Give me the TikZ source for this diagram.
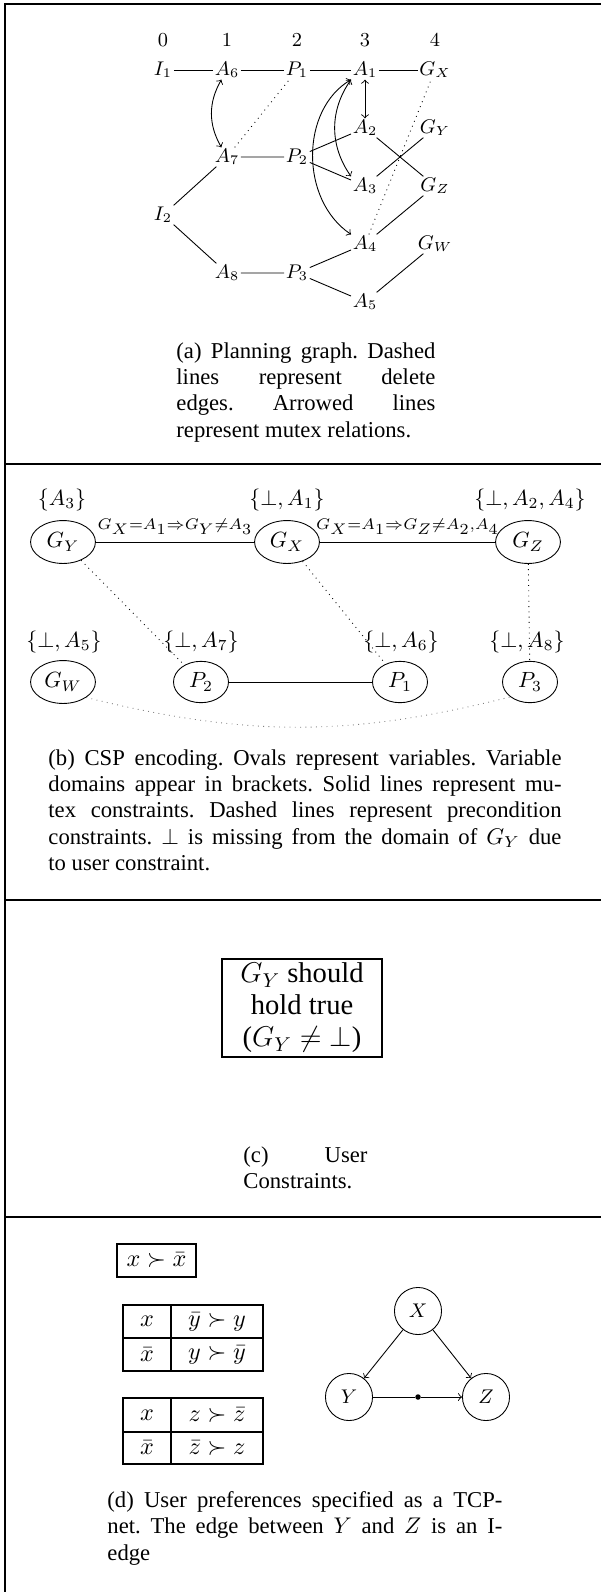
\RequirePackage{fix-cm}
\documentclass[tikz,border=0pt]{standalone}
\usepackage[no-math]{fontspec}
\setmainfont{Liberation Serif}
\usetikzlibrary{shapes.geometric}
\newcommand{\edgelab}[1]{\scalebox{1.03}[1]{$\scriptscriptstyle #1$}}
\begin{document}
\frenchspacing
\begin{tikzpicture}[x=0.4545pt,y=-0.4545pt,
  frame/.style={line width=0.9pt},
  pgn/.style={inner sep=0.6pt,font=\small},
  mutex/.style={<->},
  deledge/.style={dotted},
  oval/.style={draw,ellipse,inner sep=0pt,minimum width=29.5pt,minimum height=19.5pt},
  poval/.style={draw,ellipse,inner sep=0pt,minimum width=25pt,minimum height=18.8pt},
  dom/.style={inner sep=0pt},
  elab/.style={above=3pt,inner sep=0pt,font=\fontsize{14}{16}\selectfont},
  captext/.style={anchor=north west,inner sep=0pt,align=justify,font=\fontsize{10.3}{12}\selectfont},
  ubox/.style={draw,line width=0.9pt,align=center,inner xsep=0pt,inner ysep=2pt,minimum width=73pt,font=\fontsize{13}{14.5}\selectfont},
  tbl/.style={line width=0.9pt},
  cell/.style={inner sep=0pt,font=\fontsize{11}{13}\selectfont},
  tcp/.style={draw,circle,inner sep=0pt,minimum size=21.4pt,font=\small},
]
\useasboundingbox (0,0) rectangle (601,1592);
% frame
\draw[frame] (5,1592) -- (5,3.7) -- (601,3.7);
\foreach \yy in {464,900,1217} \draw[frame] (5,\yy) -- (601,\yy);

% ---------- (a) planning graph ----------
\node[pgn] (n0) at (163,40) {$0$};
\node[pgn] (n1) at (227,40) {$1$};
\node[pgn] (n2) at (297,40) {$2$};
\node[pgn] (n3) at (365,40) {$3$};
\node[pgn] (n4) at (435,40) {$4$};
\node[pgn] (I1) at (163,70) {$I_1$};
\node[pgn] (A6) at (227,70) {$A_6$};
\node[pgn] (P1) at (297,70) {$P_1$};
\node[pgn] (A1) at (365,70) {$A_1$};
\node[pgn] (GX) at (435,70) {$G_X$};
\node[pgn] (A2) at (365,128) {$A_2$};
\node[pgn] (GY) at (435,128) {$G_Y$};
\node[pgn] (A7) at (227,157) {$A_7$};
\node[pgn] (P2) at (297,157) {$P_2$};
\node[pgn] (A3) at (365,186) {$A_3$};
\node[pgn] (GZ) at (435,186) {$G_Z$};
\node[pgn] (I2) at (163,215) {$I_2$};
\node[pgn] (A4) at (365,244) {$A_4$};
\node[pgn] (GW) at (435,244) {$G_W$};
\node[pgn] (A8) at (227,273) {$A_8$};
\node[pgn] (P3) at (297,273) {$P_3$};
\node[pgn] (A5) at (365,302) {$A_5$};
\draw (I1)--(A6) (A6)--(P1) (P1)--(A1) (A1)--(GX);
\draw (A7)--(P2) (P2)--(A2) (P2)--(A3) (A2)--(GZ) (A3)--(GY);
\draw (I2)--(A7) (I2)--(A8) (A8)--(P3) (P3)--(A4) (P3)--(A5) (A4)--(GZ) (A5)--(GW);
\draw[deledge] (A7)--(P1) (A4)--(GX);
\draw[mutex] (A6) to[bend right=30] (A7);
\draw[mutex] (A1) -- (A2);
\draw[mutex] (A1.south west) to[bend right=35] (A3.north west);
\draw[mutex] (A1.south west) .. controls (300,110) and (300,200) .. (A4.north west);
\node[captext,text width=117.7pt] (capa) at (176,342) {(a) Planning graph. Dashed\linebreak lines represent delete\linebreak edges. Arrowed lines\linebreak represent mutex relations.};

% ---------- (b) CSP encoding ----------
\node[oval] (cGY) at (63,542) {$G_Y$};
\node[oval] (cGX) at (287,542) {$G_X$};
\node[oval] (cGZ) at (528,542) {$G_Z$};
\node[oval] (cGW) at (63,682) {$G_W$};
\node[poval] (cP2) at (201,682) {$P_2$};
\node[poval] (cP1) at (400,682) {$P_1$};
\node[poval] (cP3) at (530,682) {$P_3$};
\node[dom] (dGY) at (62,500) {$\{A_3\}$};
\node[dom] (dGX) at (287,500) {$\{\bot,A_1\}$};
\node[dom] (dGZ) at (530,500) {$\{\bot,A_2,A_4\}$};
\node[dom] (dGW) at (64,642) {$\{\bot,A_5\}$};
\node[dom] (dP2) at (201,642) {$\{\bot,A_7\}$};
\node[dom] (dP1) at (401,642) {$\{\bot,A_6\}$};
\node[dom] (dP3) at (527,642) {$\{\bot,A_8\}$};
\draw (cGY) -- node[elab] (l1) {\edgelab{G_X=A_1\Rightarrow G_Y\neq A_3}} (cGX);
\draw (cGX) -- node[elab] (l2) {\edgelab{G_X=A_1\Rightarrow G_Z\neq A_2,A_4}} (cGZ);
\draw (cP2) -- (cP1);
\draw[deledge] (cGY) -- (cP2);
\draw[deledge] (cGX) -- (cP1);
\draw[deledge] (cGZ) -- (cP3);
\draw[deledge,gray] (cGW.south east) to[bend right=14] (cP3.south west);
\node[captext,text width=233.2pt] (capb) at (48,749) {(b) CSP encoding. Ovals represent variables. Variable\linebreak domains appear in brackets. Solid lines represent mu-\linebreak tex constraints. Dashed lines represent precondition\linebreak constraints. $\bot$ is missing from the domain of $G_Y$ due\linebreak to user constraint.};

% ---------- (c) user constraints ----------
\node[ubox] (ucon) at (302,1008) {$G_Y$ should\\hold true\\($G_Y\neq\bot$)};
\node[captext,text width=56.4pt] (capc) at (243,1146) {(c) User\linebreak Constraints.};

% ---------- (d) TCP-net ----------
\node[draw,line width=0.9pt,inner sep=0pt,minimum width=36pt,minimum height=15pt,font=\fontsize{11}{13}\selectfont] (pref) at (156.5,1260.5) {$x\succ\bar{x}$};
\draw[tbl] (123,1305) rectangle (263,1371);
\draw[tbl] (171,1305) -- (171,1371) (123,1338) -- (263,1338);
\node[cell] (ta1) at (147,1321.5) {$x$};
\node[cell] (ta2) at (217,1321.5) {$\bar{y}\succ y$};
\node[cell] (ta3) at (147,1354.5) {$\bar{x}$};
\node[cell] (ta4) at (217,1354.5) {$y\succ\bar{y}$};
\draw[tbl] (123,1398) rectangle (263,1464);
\draw[tbl] (171,1398) -- (171,1464) (123,1432) -- (263,1432);
\node[cell] (tb1) at (147,1415) {$x$};
\node[cell] (tb2) at (217,1415) {$z\succ\bar{z}$};
\node[cell] (tb3) at (147,1448) {$\bar{x}$};
\node[cell] (tb4) at (217,1448) {$\bar{z}\succ z$};
\node[tcp] (tX) at (418,1311) {$X$};
\node[tcp] (tY) at (349,1397) {$Y$};
\node[tcp] (tZ) at (486,1397) {$Z$};
\node[circle,fill,inner sep=0pt,minimum size=2.5pt] (tdot) at (418,1397) {};
\draw[->] (tX) -- (tY);
\draw[->] (tX) -- (tZ);
\draw (tY) -- (tdot);
\draw[->] (tdot) -- (tZ);
\node[captext,text width=179.5pt] (capd) at (107,1491) {(d) User preferences specified as a TCP-\linebreak net. The edge between $Y$ and $Z$ is an I-\linebreak edge};
\end{tikzpicture}
\end{document}
